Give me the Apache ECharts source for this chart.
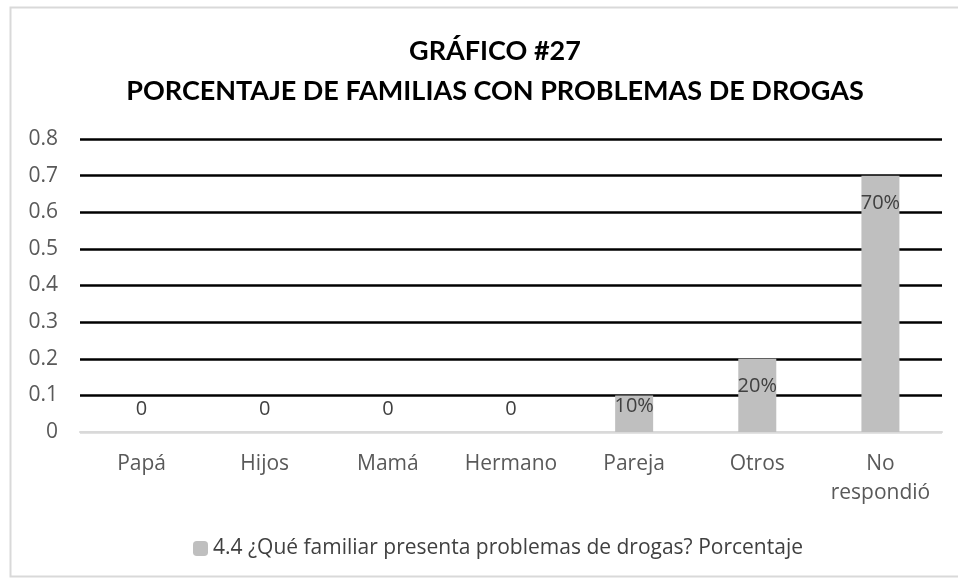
<!DOCTYPE html>
<html>
<head>
<meta charset="utf-8">
<script src="https://cdn.jsdelivr.net/npm/echarts@6/dist/echarts.min.js"></script>
<style>
  html, body { margin: 0; padding: 0; background: #fff; }
  #chart { width: 958px; height: 579px; }
</style>
</head>
<body>
<div id="chart"></div>
<script>
  var categories = ['Papá', 'Hijos', 'Mamá', 'Hermano', 'Pareja', 'Otros', 'No\nrespondió'];
  var porcentaje = [0, 0, 0, 0, 0.1, 0.2, 0.7];
  var yTicks = [0, 0.1, 0.2, 0.3, 0.4, 0.5, 0.6, 0.7, 0.8];
  var seriesName = '4.4 ¿Qué familiar presenta problemas de drogas? Porcentaje';

  var titleFont = 'Lato, "Open Sans", sans-serif';
  var font = '"Open Sans", Lato, sans-serif';

  // ceros: etiqueta sobre la base; barras cortas: pegada arriba; resto: dentro
  var barData = porcentaje.map(function (v) {
    if (v === 0) {
      return { value: v, label: { position: 'top', distance: 13 } };
    }
    if (v < 0.15) {
      return { value: v, label: { position: 'insideTop', distance: 1 } };
    }
    return { value: v, label: { position: 'insideTop', distance: 18 } };
  });

  var chart = echarts.init(document.getElementById('chart'));
  chart.setOption({
    backgroundColor: '#fff',
    animation: false,
    title: {
      text: 'GRÁFICO #27\nPORCENTAJE DE FAMILIAS CON PROBLEMAS DE DROGAS',
      left: 490,
      textAlign: 'center',
      top: 26,
      textStyle: {
        fontFamily: titleFont,
        fontWeight: 'bold',
        fontSize: 27,
        lineHeight: 40,
        color: '#000'
      }
    },
    graphic: [{
      type: 'rect',
      shape: { x: 10.5, y: 7.5, width: 960, height: 569 },
      style: { fill: 'none', stroke: '#d9d9d9', lineWidth: 2 },
      silent: true
    }],
    legend: {
      bottom: 15,
      left: 188,
      itemWidth: 15,
      itemHeight: 15,
      itemGap: 5,
      textStyle: { fontFamily: font, fontSize: 21, color: '#404040' },
      data: [seriesName]
    },
    grid: { left: 80, right: 16, top: 139, bottom: 147 },
    xAxis: {
      type: 'category',
      data: categories,
      axisLine: { lineStyle: { color: '#d9d9d9', width: 2 } },
      axisTick: { show: false },
      axisLabel: {
        fontFamily: font,
        fontSize: 21,
        color: '#595959',
        interval: 0,
        margin: 18,
        lineHeight: 29
      }
    },
    yAxis: {
      type: 'value',
      min: yTicks[0],
      max: yTicks[yTicks.length - 1],
      interval: 0.1,
      axisLine: { show: false },
      axisTick: { show: false },
      axisLabel: {
        fontFamily: font,
        fontSize: 21,
        color: '#595959',
        margin: 22
      },
      splitLine: {
        lineStyle: {
          color: ['#d9d9d9', '#000', '#000', '#000', '#000', '#000', '#000', '#000', '#000'],
          width: 2.5
        }
      }
    },
    series: [{
      name: seriesName,
      type: 'bar',
      data: barData,
      barWidth: 38,
      itemStyle: { color: '#bfbfbf' },
      label: {
        show: true,
        fontFamily: font,
        fontSize: 20,
        color: '#404040',
        formatter: function (p) {
          return p.value === 0 ? '0' : Math.round(p.value * 100) + '%';
        }
      }
    }]
  });
</script>
</body>
</html>
